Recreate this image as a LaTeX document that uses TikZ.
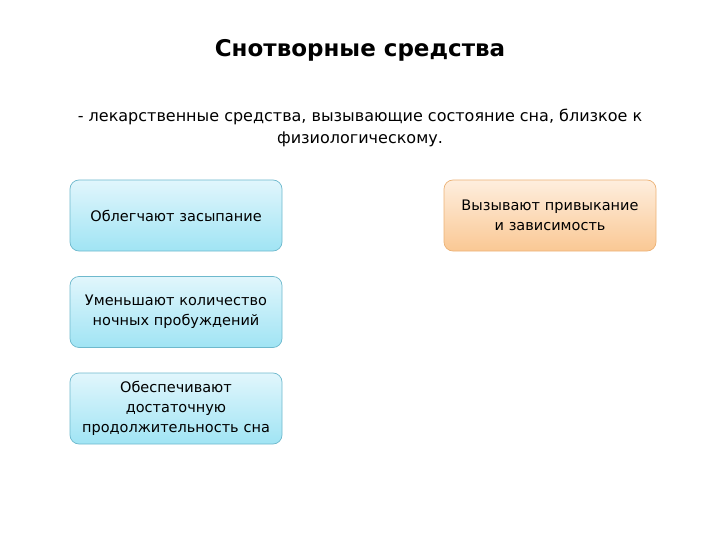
\documentclass[tikz,border=0pt]{standalone}
\usepackage{fontspec}
\setmainfont{DejaVu Sans}
\definecolor{bluetop}{RGB}{225,246,252}
\definecolor{bluebot}{RGB}{160,228,244}
\definecolor{blueedge}{RGB}{110,185,205}
\definecolor{ortop}{RGB}{254,238,222}
\definecolor{orbot}{RGB}{250,200,148}
\definecolor{oredge}{RGB}{236,178,118}
\begin{document}
\begin{tikzpicture}[x=1pt,y=-1pt,
  boxbase/.style={line width=0.7pt, rounded corners=9pt,
    minimum width=210pt, minimum height=71pt, inner sep=1pt,
    align=center, font=\fontsize{14.5}{20}\selectfont, text width=210pt},
  bluebox/.style={boxbase, draw=blueedge, top color=bluetop, bottom color=bluebot},
  orangebox/.style={boxbase, draw=oredge, top color=ortop, bottom color=orbot}]
\useasboundingbox (0,0) rectangle (720,540);
\node[font=\bfseries\fontsize{23}{27}\selectfont] (title) at (360,50) {Снотворные средства};
\node[align=center, font=\fontsize{16}{22}\selectfont] (def) at (360,128)
  {- лекарственные средства, вызывающие состояние сна, близкое к\\физиологическому.};
\node[bluebox] (b1) at (176,215.5) {Облегчают засыпание};
\node[bluebox] (b2) at (176,312) {Уменьшают количество\\ночных пробуждений};
\node[bluebox] (b3) at (176,408.5) {Обеспечивают\\достаточную\\продолжительность сна};
\node[orangebox] (o1) at (550,215.5) {Вызывают привыкание\\и зависимость};
\end{tikzpicture}
\end{document}
